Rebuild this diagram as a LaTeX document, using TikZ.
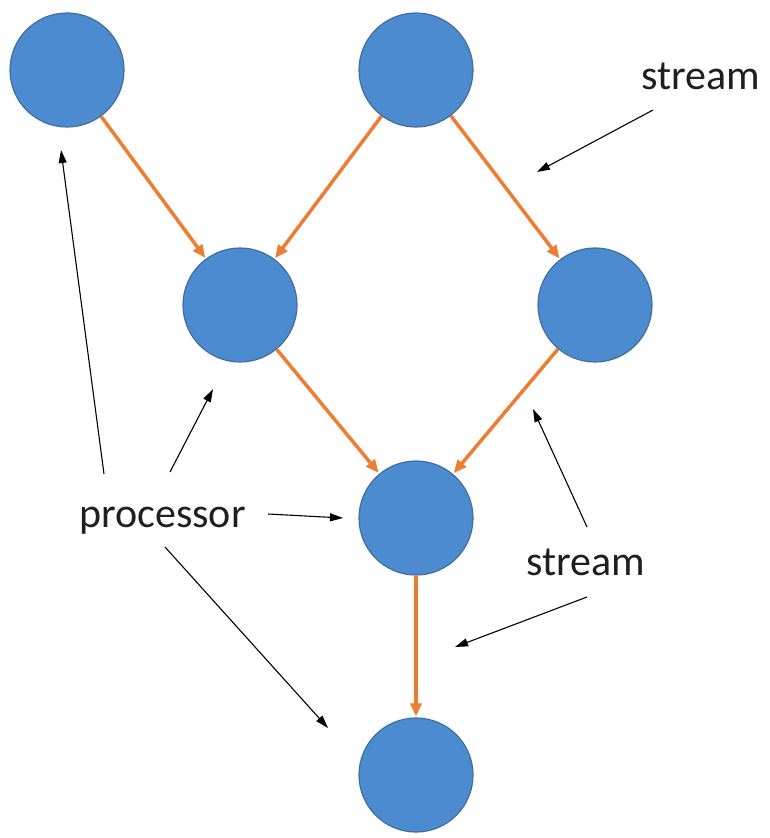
\documentclass[tikz,border=0pt]{standalone}
\usepackage{fontspec}
\setmainfont{Carlito}
\usetikzlibrary{arrows.meta}
\definecolor{procfill}{HTML}{4D8BD0}
\definecolor{procedge}{HTML}{3F6F9E}
\definecolor{streamor}{HTML}{ED7D31}
\tikzset{
  proc/.style={circle, fill=procfill, draw=procedge, line width=1.2bp, minimum size=114bp, inner sep=0pt},
  flow/.style={draw=streamor, line width=3.5bp, -{Triangle[length=13bp,width=11bp]}, shorten >=1bp},
  note/.style={draw=black, line width=1.1bp, -{Triangle[length=13bp,width=8bp]}},
  lbl/.style={font=\fontsize{42bp}{50bp}\selectfont, inner sep=0pt, anchor=base west, text=black!88}
}
\begin{document}
\begin{tikzpicture}[x=1bp,y=-1bp]
\useasboundingbox (0,0) rectangle (770,838);
\fill[white] (0,0) rectangle (770,838);
% processors
\node[proc] (A) at (67,70) {};
\node[proc] (B) at (416,70) {};
\node[proc] (C) at (240,305) {};
\node[proc] (D) at (595,305) {};
\node[proc] (E) at (416,518) {};
\node[proc] (F) at (416,775) {};
% streams
\draw[flow] (A) -- (C);
\draw[flow] (B) -- (C);
\draw[flow] (B) -- (D);
\draw[flow] (C) -- (E);
\draw[flow] (D) -- (E);
\draw[flow] (E) -- (F);
% labels
\node[lbl] (s1) at (641,89) {stream};
\node[lbl] (p) at (79,527) {processor};
\node[lbl] (s2) at (526,575) {stream};
% annotation arrow ends
\coordinate (s1a) at (653,110);
\coordinate (s1b) at (537,172);
\coordinate (pa1) at (104,474);
\coordinate (pa2) at (61,150);
\coordinate (pc1) at (170,472);
\coordinate (pc2) at (213,389);
\coordinate (pe1) at (268,514);
\coordinate (pe2) at (343,518);
\coordinate (pf1) at (165,547);
\coordinate (pf2) at (328,728);
\coordinate (s2a) at (587,527);
\coordinate (s2b) at (533,409);
\coordinate (s2c) at (587,597);
\coordinate (s2d) at (455,647);
\draw[note] (s1a) -- (s1b);
\draw[note] (pa1) -- (pa2);
\draw[note] (pc1) -- (pc2);
\draw[note] (pe1) -- (pe2);
\draw[note] (pf1) -- (pf2);
\draw[note] (s2a) -- (s2b);
\draw[note] (s2c) -- (s2d);
\end{tikzpicture}
\end{document}
